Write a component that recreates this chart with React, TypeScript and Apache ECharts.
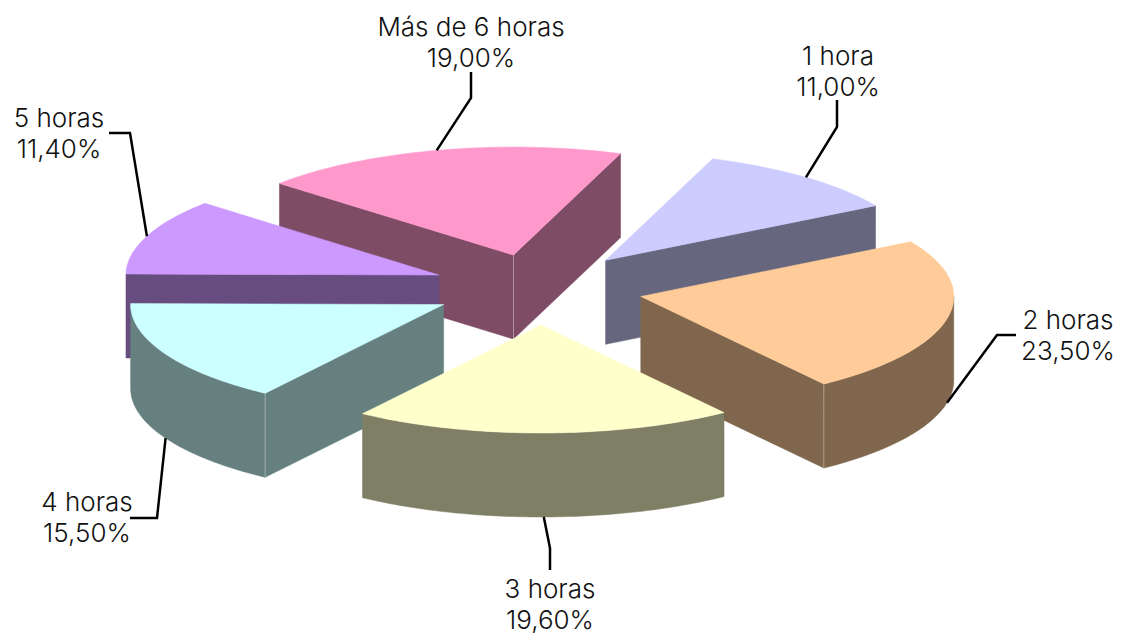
import React, { useEffect, useRef } from "react";
import * as echarts from "echarts";

const CATEGORIES = ["1 hora", "2 horas", "3 horas", "4 horas", "5 horas", "Más de 6 horas"];
const VALUES = [11.0, 23.5, 19.6, 15.5, 11.4, 19.0];
const VALUE_LABELS = ["11,00%", "23,50%", "19,60%", "15,50%", "11,40%", "19,00%"];
const TOP_COLORS = ["#CCCCFF", "#FFCC99", "#FFFFCC", "#CCFFFF", "#CC99FF", "#FF99CC"];
const SIDE_COLORS = ["#66667F", "#7F664C", "#7F7F66", "#667F7F", "#664C7F", "#7F4C66"];
const DRAW_ORDER = [5, 0, 4, 1, 3, 2];

// Projection of the tilted pie
const CX = 537, CY = 290, RX = 313, RY = 108, DEPTH = 84, EX = 104, EY = 36, START = -70;
// Small per-slice corrections of the exploded position
const NUDGE_X = [2, 2, 3, -1, -1, 2];
const NUDGE_Y = [-2, -1, -1, -2, -2, 0];

// Label layout: [text centre x, first line y, elbow x, elbow y, end x, end y]
const LABEL_LAYOUT = [
  [838, 55, 837, 127, 837, 100],
  [1068, 319, 997, 335, 1016, 335],
  [550, 588, 550, 548, 550, 570],
  [87, 501, 157, 518, 130, 518],
  [59, 117, 130, 133, 109, 133],
  [471, 26, 471, 98, 471, 72],
];
const LINE_GAP = 31;
const FONT = '300 26px Inter';

const rad = (d: number) => (d * Math.PI) / 180;

function sliceAngles(i: number) {
  const total = VALUES.reduce((a, b) => a + b, 0);
  const before = VALUES.slice(0, i).reduce((a, b) => a + b, 0);
  const a = START + (before / total) * 360;
  const b = a + (VALUES[i] / total) * 360;
  return [a, b];
}
function apex(i: number) {
  const [a, b] = sliceAngles(i);
  const m = rad((a + b) / 2);
  return [CX + EX * Math.cos(m) + NUDGE_X[i], CY + EY * Math.sin(m) + NUDGE_Y[i]];
}
function rim(i: number, t: number, dy = 0) {
  const [x, y] = apex(i);
  return [x + RX * Math.cos(rad(t)), y + RY * Math.sin(rad(t)) + dy];
}
function arc(i: number, from: number, to: number, dy = 0) {
  const pts: number[][] = [];
  const n = Math.max(2, Math.ceil(Math.abs(to - from)));
  for (let k = 0; k <= n; k++) pts.push(rim(i, from + ((to - from) * k) / n, dy));
  return pts;
}

function renderSlice(_: any, api: any) {
  const i = api.value(0);
  const [a, b] = sliceAngles(i);
  const p = apex(i);
  const side = SIDE_COLORS[i];
  const children: any[] = [];
  const poly = (points: number[][], fill: string) => ({
    type: "polygon",
    shape: { points },
    style: { fill, stroke: fill, lineWidth: 0.5 },
  });
  const edge = (x: number, y: number) => ({
    type: "line",
    shape: { x1: x, y1: y, x2: x, y2: y + DEPTH },
    style: { stroke: "rgba(255,255,255,0.35)", lineWidth: 1 },
  });
  const pA = rim(i, a), pB = rim(i, b);
  const p2 = [p[0], p[1] + DEPTH];
  const startVisible = Math.cos(rad(a)) < 0;
  const endVisible = Math.cos(rad(b)) > 0;
  if (startVisible) children.push(poly([p, pA, [pA[0], pA[1] + DEPTH], p2], side));
  if (endVisible) children.push(poly([p, pB, [pB[0], pB[1] + DEPTH], p2], side));
  const lo = Math.max(a, 0), hi = Math.min(b, 180);
  if (hi > lo) {
    children.push(poly([...arc(i, lo, hi), ...arc(i, hi, lo, DEPTH)], side));
  }
  if (startVisible && endVisible) children.push(edge(p[0], p[1]));
  if (endVisible && b > 0 && b < 180) children.push(edge(pB[0], pB[1]));
  if (startVisible && a > 0 && a < 180) children.push(edge(pA[0], pA[1]));
  children.push(poly([p, ...arc(i, a, b)], TOP_COLORS[i]));
  return { type: "group", children };
}

function renderLabel(_: any, api: any) {
  const i = api.value(0);
  const [a, b] = sliceAngles(i);
  const m = (a + b) / 2;
  const [tx, ty, ex, ey, fx, fy] = LABEL_LAYOUT[i];
  const onFront = m > 0 && m < 180;
  const start = rim(i, m, onFront ? DEPTH : 0);
  const textEl = (text: string, y: number) => ({
    type: "text",
    style: { text, x: tx, y, font: FONT, fill: "#111", align: "center", verticalAlign: "middle" },
  });
  return {
    type: "group",
    children: [
      {
        type: "polyline",
        shape: { points: [start, [ex, ey], [fx, fy]] },
        style: { stroke: "#000", lineWidth: 2.5, fill: "none" },
      },
      textEl(CATEGORIES[i], ty),
      textEl(VALUE_LABELS[i], ty + LINE_GAP),
    ],
  };
}

export default function App() {
  const ref = useRef<HTMLDivElement>(null);
  useEffect(() => {
    const chart = echarts.init(ref.current!, undefined, { renderer: "svg" });
    chart.setOption({
      animation: false,
      backgroundColor: "#fff",
      series: [
        {
          type: "custom",
          coordinateSystem: "none",
          silent: true,
          renderItem: renderSlice,
          data: DRAW_ORDER.map((i) => [i, VALUES[i]]),
          encode: { value: 1 },
          z: 1,
        },
        {
          type: "custom",
          coordinateSystem: "none",
          silent: true,
          renderItem: renderLabel,
          data: CATEGORIES.map((_, i) => [i, VALUES[i]]),
          encode: { value: 1 },
          z: 2,
        },
      ],
    });
    return () => chart.dispose();
  }, []);
  return <div ref={ref} style={{ position: "absolute", left: 0, top: 0, width: 1121, height: 633 }} />;
}
